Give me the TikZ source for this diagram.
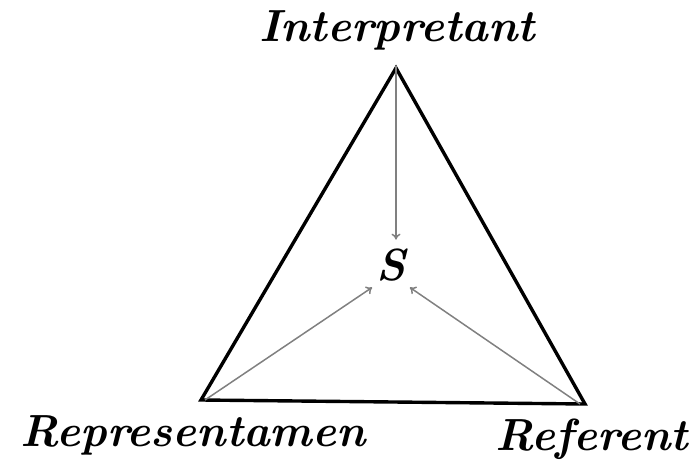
\documentclass[tikz,border=0pt]{standalone}
\usetikzlibrary{positioning, arrows.meta}
\begin{document}
\begin{tikzpicture}[x=1pt, y=-1pt,
    corner/.style={font=\fontsize{45}{50}\selectfont\bfseries\itshape, inner sep=0pt},
    link/.style={draw=gray, line width=1.5pt, -{To[length=6pt, width=9pt]}}]
  \useasboundingbox (0,0) rectangle (691,465);
  % vertices of the triangle
  \coordinate (top) at (396,68);
  \coordinate (left) at (201,400);
  \coordinate (right) at (585,404);
  \draw[line width=3.4pt, line join=miter] (top) -- (left) -- (right) -- cycle;
  % labels
  \node[corner] (interp) at (397,30) {Interpretant};
  \node[corner] (repr) at (193,435) {Representamen};
  \node[corner] (ref) at (592,439) {Referent};
  \node[corner, inner xsep=4pt, inner ysep=9pt] (sign) at (391,265) {S};
  % arrows to the sign
  \draw[link] ([yshift=2pt]top) -- (top |- sign.north);
  \draw[link] ([xshift=4pt]left) -- ([yshift=3pt]sign.south west);
  \draw[link] ([xshift=-5pt]right) -- ([yshift=3pt]sign.south east);
\end{tikzpicture}
\end{document}
